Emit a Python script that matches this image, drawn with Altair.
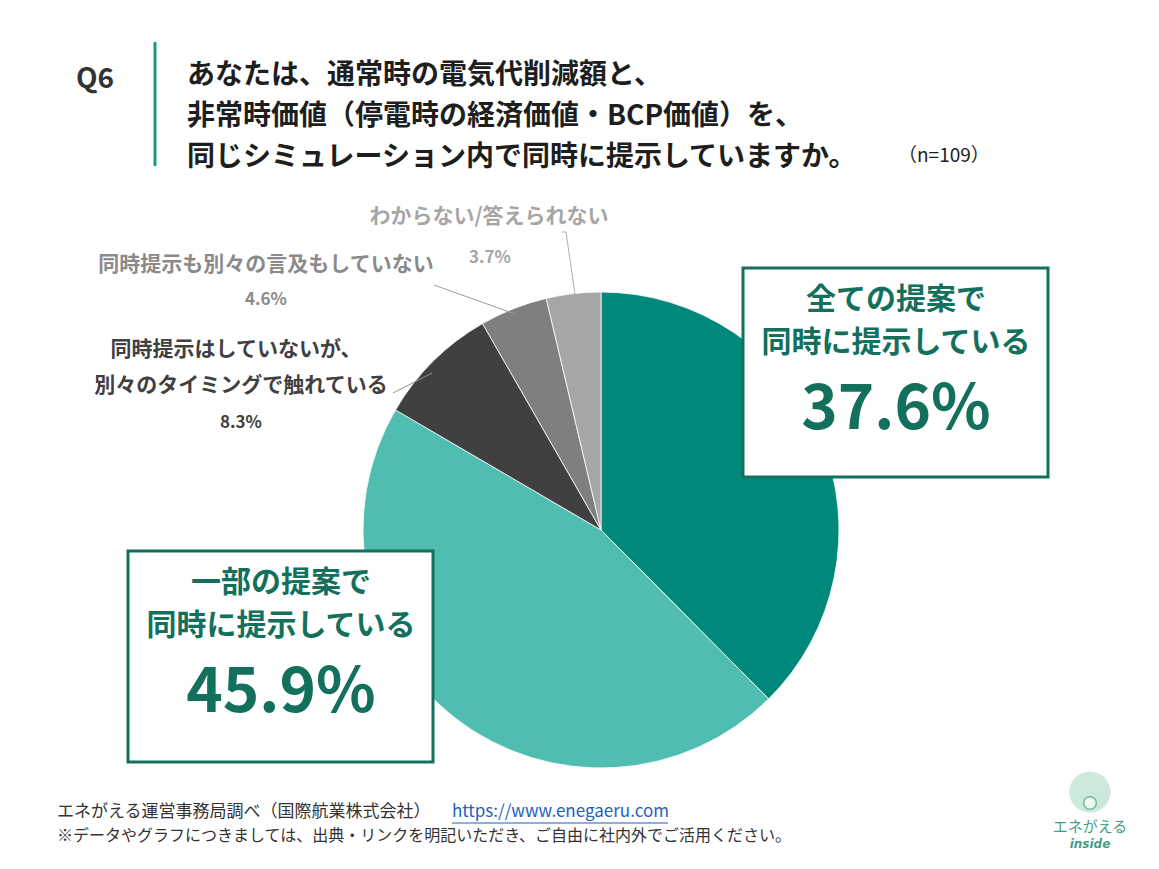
import altair as alt
import pandas as pd

# Survey answers, clockwise from 12 o'clock
categories = [
    "全ての提案で同時に提示している",
    "一部の提案で同時に提示している",
    "同時提示はしていないが、別々のタイミングで触れている",
    "同時提示も別々の言及もしていない",
    "わからない/答えられない",
]
shares = [37.6, 45.9, 8.3, 4.6, 3.7]
slice_colors = ["#00897a", "#4fbdb0", "#404040", "#7f7f7f", "#a6a6a6"]

title_lines = [
    "あなたは、通常時の電気代削減額と、",
    "非常時価値（停電時の経済価値・BCP価値）を、",
    "同じシミュレーション内で同時に提示していますか。",
]
sample_note = "（n=109）"
source_line = "エネがえる運営事務局調べ（国際航業株式会社）"
source_url = "https://www.enegaeru.com"
usage_note = "※データやグラフにつきましては、出典・リンクを明記いただき、ご自由に社内外でご活用ください。"

W, H = 1159, 869
FONT = "Noto Sans CJK JP"
GREEN = "#13705c"

pie_df = pd.DataFrame({"category": categories, "share": shares, "rank": list(range(len(shares)))})
one = pd.DataFrame({"k": [0]})


def fmt(v):
    return f"{v:.1f}%"


def text(s, x, y, size, color, weight="bold", align="center", font=FONT,
         style="normal", baseline="middle"):
    return alt.Chart(one).mark_text(
        text=s, font=font, fontSize=size, fontWeight=weight, color=color,
        align=align, baseline=baseline, fontStyle=style,
    ).encode(x=alt.value(x), y=alt.value(y))


def rule(x1, y1, x2, y2, color, width=1):
    return alt.Chart(one).mark_rule(color=color, strokeWidth=width).encode(
        x=alt.value(x1), y=alt.value(y1), x2=alt.value(x2), y2=alt.value(y2)
    )


def box(x1, y1, x2, y2):
    return alt.Chart(one).mark_rect(fill="white", stroke=GREEN, strokeWidth=3).encode(
        x=alt.value(x1), y=alt.value(y1), x2=alt.value(x2), y2=alt.value(y2)
    )


pie = alt.Chart(pie_df).mark_arc(outerRadius=238, stroke="white", strokeWidth=0.8).encode(
    theta=alt.Theta("share:Q", stack=True),
    order=alt.Order("rank:Q"),
    color=alt.Color("category:N", sort=categories,
                    scale=alt.Scale(domain=categories, range=slice_colors), legend=None),
    x=alt.value(601), y=alt.value(530),
)

layers = [pie]

# header
layers.append(text("Q6", 95, 80, 28, "#333333"))
layers.append(rule(155, 42, 155, 166, "#1a9a84", 3))
for i, line in enumerate(title_lines):
    layers.append(text(line, 187, 76 + i * 41, 28, "#1e1e1e", align="left"))
layers.append(text(sample_note, 898, 156, 19, "#1e1e1e", weight="normal", align="left"))

# small-slice labels with leader lines
layers.append(rule(575, 294, 566, 232, "#b0b0b0"))
layers.append(rule(566, 232, 562, 232, "#b0b0b0"))
layers.append(text(categories[4], 489, 217, 21, "#a6a6a6"))
layers.append(text(fmt(shares[4]), 490, 258, 17, "#a6a6a6"))

layers.append(rule(515, 314, 434, 285, "#9a9a9a"))
layers.append(text(categories[3], 266, 265, 21, "#8a8a8a"))
layers.append(text(fmt(shares[3]), 266, 300, 17, "#8a8a8a"))

layers.append(rule(432, 373, 393, 393, "#909090"))
layers.append(text("同時提示はしていないが、", 236, 350, 21, "#404040"))
layers.append(text("別々のタイミングで触れている", 241, 386, 21, "#404040"))
layers.append(text(fmt(shares[2]), 241, 423, 17, "#404040"))

# callout boxes for the two large slices
layers.append(box(743, 268, 1048, 477))
layers.append(text("全ての提案で", 896, 300, 30, GREEN))
layers.append(text("同時に提示している", 896, 343, 30, GREEN))
layers.append(text(fmt(shares[0]), 896, 429, 62, GREEN, baseline="alphabetic"))

layers.append(box(128, 551, 433, 762))
layers.append(text("一部の提案で", 281, 583, 30, GREEN))
layers.append(text("同時に提示している", 281, 626, 30, GREEN))
layers.append(text(fmt(shares[1]), 281, 712, 62, GREEN, baseline="alphabetic"))

# footer
layers.append(text(source_line, 57, 812, 17, "#333333", weight="normal", align="left"))
layers.append(text(source_url, 452, 812, 17, "#1f5fbf", weight="normal", align="left"))
layers.append(rule(452, 823, 668, 823, "#1f5fbf"))
layers.append(text(usage_note, 57, 836, 16, "#333333", weight="normal", align="left"))

# logo
layers.append(alt.Chart(one).mark_circle(size=1700, color="#cde9dc", opacity=1).encode(
    x=alt.value(1090), y=alt.value(792)))
layers.append(alt.Chart(one).mark_circle(size=160, color="white", stroke="#4aa88a", strokeWidth=1.5).encode(
    x=alt.value(1090), y=alt.value(803)))
layers.append(text("エネがえる", 1090, 827, 15, "#3f9f86", weight="normal"))
layers.append(text("inside", 1090, 844, 12, "#3f9f86", font="DejaVu Sans", style="italic"))

chart = alt.layer(*layers).properties(
    width=W, height=H, autosize=alt.AutoSizeParams(type="none"), padding=0,
    background="white",
).configure_view(stroke=None)

chart.save("out.html", embed_options={"renderer": "svg", "actions": False})
